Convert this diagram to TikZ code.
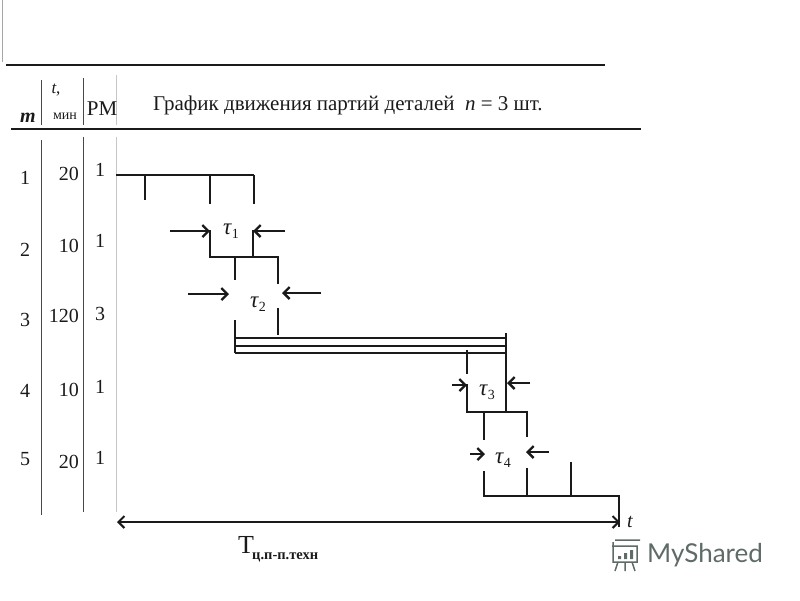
\documentclass[tikz,border=0pt]{standalone}
\usepackage{fontspec}
\setmainfont{Liberation Serif}
\newfontfamily\logofont{Lato}
\usetikzlibrary{arrows.meta}
\definecolor{inkc}{HTML}{1A1A1A}
\definecolor{logoc}{HTML}{5F6B68}
\begin{document}
\begin{tikzpicture}[x=1pt,y=-1pt]
  \tikzset{rule line/.style={draw=inkc,line width=2.6pt},
    col line/.style={draw=#1,line width=1pt},
    batch line/.style={draw=inkc,line width=2.1pt},
    gap arrow/.style={draw=inkc,line width=2.3pt,-{Straight Barb[length=6pt,width=12pt]}},
    cell/.style={text=inkc,font=\fontsize{20}{20}\selectfont,inner sep=0pt},
    gap label/.style={text=inkc,font=\fontsize{23}{23}\selectfont,inner sep=0pt}}
  \useasboundingbox (0,0) rectangle (800,600);

  % table frame
  \draw[col line=gray!70] (2,0) -- (2,62);
  \draw[rule line] (6,65) -- (605,65);
  \draw[rule line] (11,129) -- (641,129);
  \draw[col line=inkc!80] (41,80) -- (41,125) (41,140) -- (41,515);
  \draw[col line=inkc!80] (83,78) -- (83,125) (83,137) -- (83,512);
  \draw[col line=gray!45] (116,75) -- (116,125) (116,137) -- (116,512);

  % header
  \node[cell] (headm) at (28,118) {\textbf{\textit{m}}};
  \node[cell,font=\fontsize{17}{17}\selectfont] (headt) at (56,90) {\textit{t},};
  \node[cell,font=\fontsize{14}{14}\selectfont] (headmin) at (65,116) {мин};
  \node[cell,font=\fontsize{21}{21}\selectfont] (headrm) at (102,109) {РМ};
  \node[cell,anchor=west,font=\fontsize{21}{21}\selectfont] (title) at (153,105) {График движения партий деталей \ \textit{n} = 3 шт.};

  % rows
  \foreach \m/\t/\r/\ym/\yt/\yr in {1/20/1/178/174/170,2/10/1/250/246/241,3/120/3/320/316/314,4/10/1/391/390/387,5/20/1/459/462/458} {
    \node[cell] (m\m) at (25,\ym) {\m};
    \node[cell,anchor=east] (t\m) at (79,\yt) {\t};
    \node[cell] (r\m) at (100,\yr) {\r};
  }

  % batches
  \draw[batch line] (116,175) -- (254,175);
  \foreach \x/\y in {145/200,210/204,254/204} \draw[batch line] (\x,175) -- (\x,\y);
  \draw[batch line] (210,230) -- (210,257) -- (278,257) -- (278,284);
  \draw[batch line] (253,230) -- (253,257);
  \draw[batch line] (235,257) -- (235,280);
  \draw[batch line] (278,308) -- (278,335);
  \draw[batch line] (235,320) -- (235,353);
  \foreach \y in {338,346,353} \draw[batch line] (235,\y) -- (506,\y);
  \draw[batch line] (506,333) -- (506,412);
  \draw[batch line] (467,350) -- (467,374);
  \draw[batch line] (467,384) -- (467,412) -- (527,412) -- (527,437);
  \draw[batch line] (484,412) -- (484,440);
  \draw[batch line] (484,471) -- (484,496) -- (619,496) -- (619,527);
  \foreach \x/\y in {527/468,571/462} \draw[batch line] (\x,\y) -- (\x,496);

  % gaps
  \foreach \n/\xa/\ya/\xb/\yb/\xc/\yc/\xd/\yd/\xl/\yl in {
    1/170/231/210/231/285/231/253/231/231/231,
    2/188/294/229/294/321/293/282/293/258/304,
    3/452/385/467/385/530/383/507/383/487/392,
    4/470/454/485/454/549/452/526/452/503/460} {
    \coordinate (la\n) at (\xa,\ya);
    \coordinate (lb\n) at (\xb,\yb);
    \coordinate (ra\n) at (\xc,\yc);
    \coordinate (rb\n) at (\xd,\yd);
    \draw[gap arrow] (la\n) -- (lb\n);
    \draw[gap arrow] (ra\n) -- (rb\n);
    \node[gap label] (tau\n) at (\xl,\yl) {\textit{τ}\raisebox{-4pt}{\fontsize{14}{14}\selectfont\n}};
  }

  % total time
  \coordinate (tstart) at (117,522);
  \coordinate (tend) at (620,522);
  \draw[batch line,{Straight Barb[length=6pt,width=12pt]}-{Straight Barb[length=6pt,width=12pt]}] (tstart) -- (tend);
  \node[cell,font=\fontsize{20}{20}\selectfont] (tlabel) at (630,522) {\textit{t}};
  \node[cell,font=\fontsize{26}{26}\selectfont] (ttotal) at (246,545) {T};
  \node[cell,anchor=west,font=\bfseries\fontsize{14.5}{14.5}\selectfont] (tsub) at (252,557) {ц.п-п.техн};

  % logo
  \node[text=logoc,anchor=west,inner sep=0pt,font=\logofont\fontsize{26}{26}\selectfont] (logo) at (647,555) {MyShared};
  \draw[logoc,line width=1.5pt] (615,540) -- (640,540) (612,546) -- (637,546) -- (637,562) -- (613,562) -- (613,542) (618,562) -- (615,571) (625,562) -- (625,571) (632,562) -- (635,571);
  \fill[logoc] (618,556) rectangle (621,559) (624,553) rectangle (627,559) (630,550) rectangle (633,559);
\end{tikzpicture}
\end{document}
